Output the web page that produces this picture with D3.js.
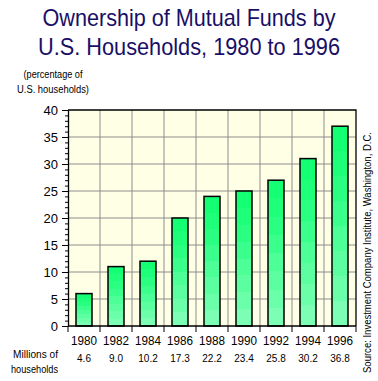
<!DOCTYPE html>
<html>
<head>
<meta charset="utf-8">
<title>Ownership of Mutual Funds</title>
<style>
  body { margin: 0; background: #fff; }
  text { font-family: "Liberation Sans", Arial, sans-serif; }
</style>
</head>
<body>
<svg width="378" height="381"></svg>
<script src="https://d3js.org/d3.v7.min.js"></script>
<script>
// data
const years = ["1980", "1982", "1984", "1986", "1988", "1990", "1992", "1994", "1996"]
const percent = [6, 11, 12, 20, 24, 25, 27, 31, 37]
const millions = ["4.6", "9.0", "10.2", "17.3", "22.2", "23.4", "25.8", "30.2", "36.8"]
const yTicks = [0, 5, 10, 15, 20, 25, 30, 35, 40]

const plotL = 68, plotR = 356, plotT = 110, plotB = 326

const svg = d3.select("svg")

const x = d3.scaleBand().domain(years).range([plotL, plotR]).paddingInner(0).paddingOuter(0)
const y = d3.scaleLinear().domain([0, 40]).range([plotB, plotT])

// stepped gradient for the bars (dark on top, pale at the bottom)
const defs = svg.append("defs")
const grad = defs.append("linearGradient")
    .attr("id", "barfill")
    .attr("x1", 0).attr("y1", 0).attr("x2", 0).attr("y2", 1)
const bandCols = ["#14ff73", "#1eff7a", "#2aff82", "#3bff8c", "#4cff96", "#5cffa0", "#6cffaa", "#7cffb4"]
bandCols.forEach((c, i) => {
  grad.append("stop").attr("offset", i / bandCols.length).attr("stop-color", c)
  grad.append("stop").attr("offset", (i + 1) / bandCols.length).attr("stop-color", c)
})

// title
const title = svg.append("text")
    .attr("text-anchor", "middle")
    .attr("fill", "#1a0f66")
    .style("font-size", "24px")
title.append("tspan").attr("x", 189).attr("y", 26)
    .attr("textLength", 293).attr("lengthAdjust", "spacingAndGlyphs")
    .text("Ownership of Mutual Funds by")
title.append("tspan").attr("x", 189).attr("y", 55)
    .attr("textLength", 302).attr("lengthAdjust", "spacingAndGlyphs")
    .text("U.S. Households, 1980 to 1996")

svg.append("text").attr("x", 53).attr("y", 78).attr("text-anchor", "middle")
    .attr("textLength", 59).attr("lengthAdjust", "spacingAndGlyphs")
    .style("font-size", "10px").text("(percentage of")
svg.append("text").attr("x", 53).attr("y", 93).attr("text-anchor", "middle")
    .attr("textLength", 72).attr("lengthAdjust", "spacingAndGlyphs")
    .style("font-size", "10px").text("U.S. households)")

// plot background
svg.append("rect")
    .attr("x", plotL).attr("y", plotT)
    .attr("width", plotR - plotL).attr("height", plotB - plotT)
    .attr("fill", "#ffffe6")

// grid
svg.append("g")
  .selectAll("line")
  .data(yTicks.filter(d => d > 0 && d < 40))
  .join("line")
    .attr("x1", plotL).attr("x2", plotR)
    .attr("y1", d => y(d)).attr("y2", d => y(d))
    .attr("stroke", "#8c8c8c")
svg.append("g")
  .selectAll("line")
  .data(years.slice(1))
  .join("line")
    .attr("x1", d => x(d)).attr("x2", d => x(d))
    .attr("y1", plotT).attr("y2", plotB)
    .attr("stroke", "#8c8c8c")

// bars
svg.append("g")
  .selectAll("rect")
  .data(percent)
  .join("rect")
    .attr("x", (d, i) => x(years[i]) + x.bandwidth() / 4)
    .attr("width", x.bandwidth() / 2)
    .attr("y", d => y(d))
    .attr("height", d => y(0) - y(d))
    .attr("fill", "url(#barfill)")
    .attr("stroke", "#000")
    .attr("stroke-width", 1.5)

// frame top / right
svg.append("path")
    .attr("d", `M${plotL},${plotT}H${plotR}V${plotB}`)
    .attr("fill", "none").attr("stroke", "#000").attr("stroke-width", 1.3)

// y axis, minor ticks first
const yMinor = svg.append("g").attr("transform", `translate(${plotL},0)`)
  .call(d3.axisLeft(y).ticks(40).tickSize(3).tickFormat(""))
yMinor.select(".domain").remove()
const yAxis = svg.append("g").attr("transform", `translate(${plotL},0)`)
  .call(d3.axisLeft(y).tickValues(yTicks).tickSize(6).tickPadding(4).tickSizeOuter(0))
yAxis.selectAll("text").style("font-size", "13px").attr("fill", "#000")
    .style("font-family", "'Liberation Sans', Arial, sans-serif")
yAxis.select(".domain").attr("stroke-width", 1.3)

// x axis: ticks at the category borders
const xAxis = svg.append("g").attr("transform", `translate(0,${plotB})`)
xAxis.append("line").attr("x1", plotL).attr("x2", plotR).attr("y1", 0).attr("y2", 0)
    .attr("stroke", "#000").attr("stroke-width", 1.3)
xAxis.selectAll("line.tk")
  .data(years.concat(["end"]))
  .join("line").attr("class", "tk")
    .attr("x1", (d, i) => plotL + i * x.step()).attr("x2", (d, i) => plotL + i * x.step())
    .attr("y1", 0).attr("y2", 6)
    .attr("stroke", "#000")
xAxis.selectAll("text.yr")
  .data(years)
  .join("text").attr("class", "yr")
    .attr("x", d => x(d) + x.bandwidth() / 2)
    .attr("y", 19)
    .attr("text-anchor", "middle")
    .attr("textLength", 26).attr("lengthAdjust", "spacingAndGlyphs")
    .style("font-size", "13px")
    .text(d => d)

// millions of households row
svg.append("g")
  .selectAll("text")
  .data(millions)
  .join("text")
    .attr("x", (d, i) => x(years[i]) + x.bandwidth() / 2)
    .attr("y", 362)
    .attr("text-anchor", "middle")
    .style("font-size", "10px")
    .text(d => d)
svg.append("text").attr("x", 58).attr("y", 358).attr("text-anchor", "end")
    .attr("textLength", 45).attr("lengthAdjust", "spacingAndGlyphs")
    .style("font-size", "10px").text("Millions of")
svg.append("text").attr("x", 58).attr("y", 373).attr("text-anchor", "end")
    .attr("textLength", 47).attr("lengthAdjust", "spacingAndGlyphs")
    .style("font-size", "10px").text("households")

// source, rotated
svg.append("text")
    .attr("transform", "translate(371,373) rotate(-90)")
    .attr("textLength", 241).attr("lengthAdjust", "spacingAndGlyphs")
    .style("font-size", "11px")
    .text("Source: Investment Company Institute, Washington, D.C.")
</script>
</body>
</html>
